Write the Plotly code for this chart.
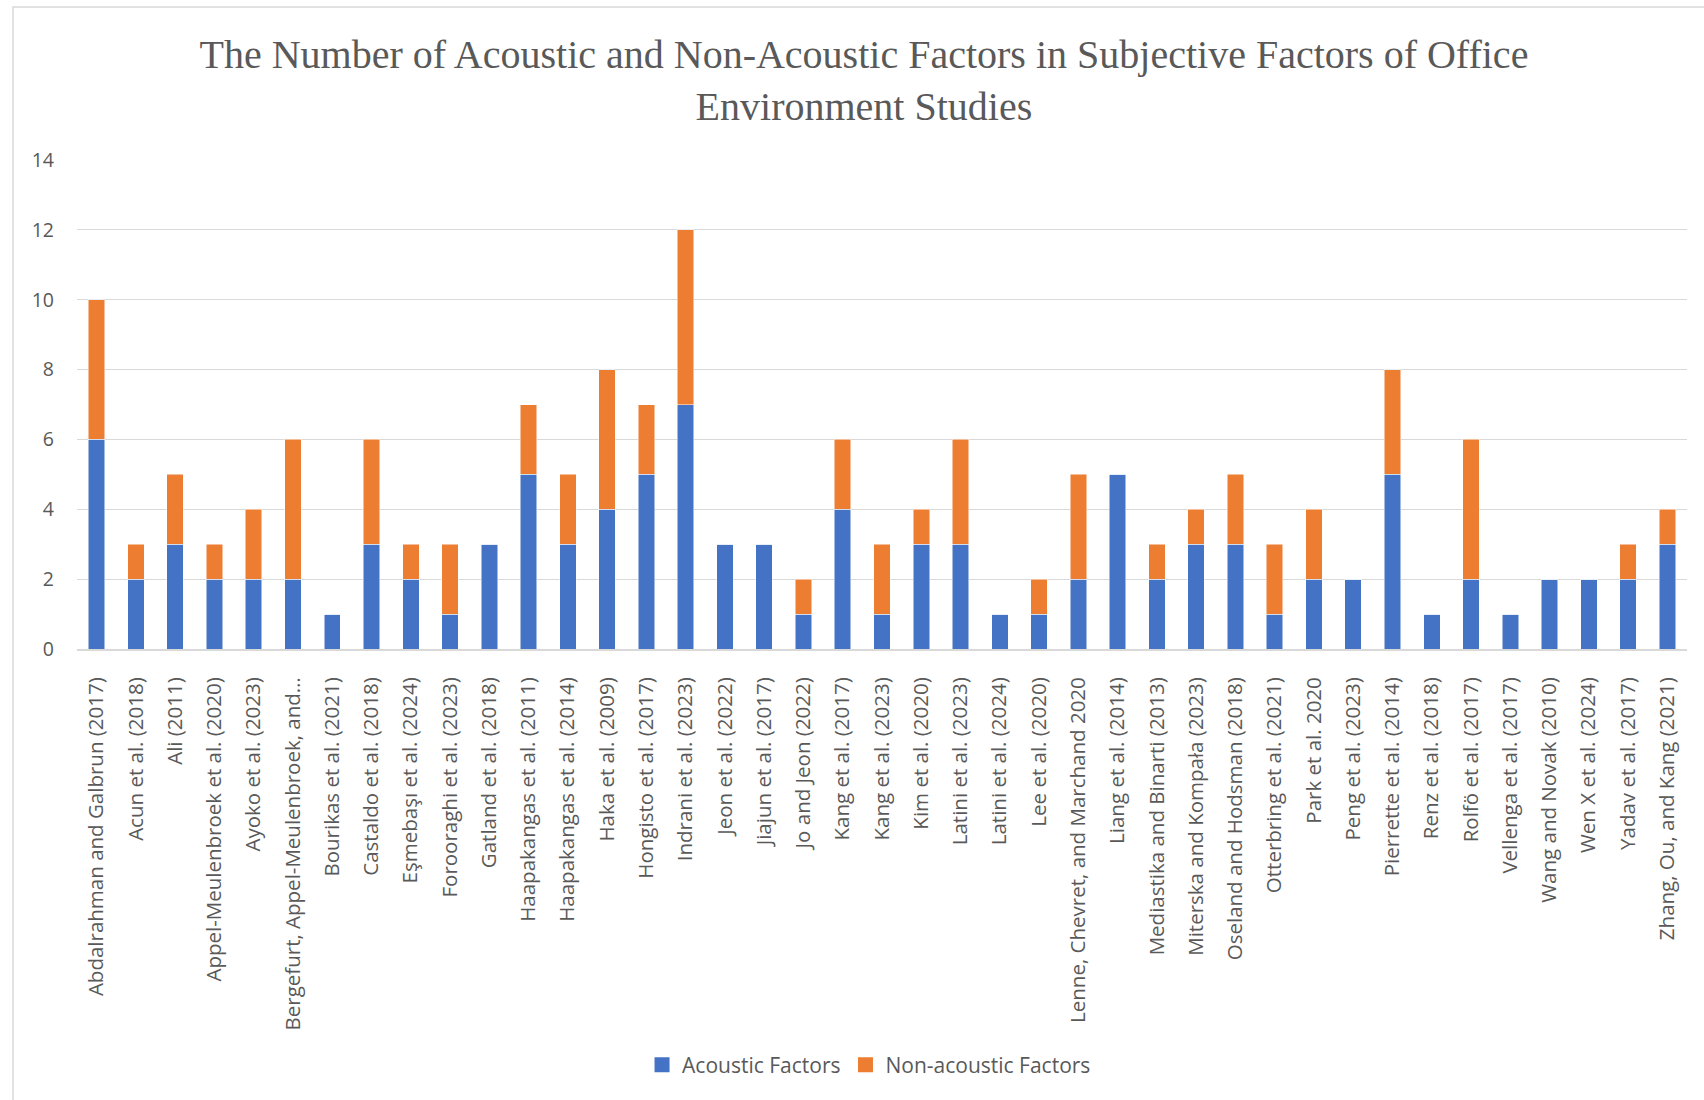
import plotly.graph_objects as go

studies = [
    "Abdalrahman and Galbrun (2017)", "Acun et al. (2018)", "Ali (2011)",
    "Appel-Meulenbroek et al. (2020)", "Ayoko et al. (2023)",
    "Bergefurt, Appel-Meulenbroek, and…", "Bourikas et al. (2021)",
    "Castaldo et al. (2018)", "Eşmebaşı et al. (2024)", "Forooraghi et al. (2023)",
    "Gatland et al. (2018)", "Haapakangas et al. (2011)", "Haapakangas et al. (2014)",
    "Haka et al. (2009)", "Hongisto et al. (2017)", "Indrani et al. (2023)",
    "Jeon et al. (2022)", "Jiajun et al. (2017)", "Jo and Jeon (2022)",
    "Kang et al. (2017)", "Kang et al. (2023)", "Kim et al. (2020)",
    "Latini et al. (2023)", "Latini et al. (2024)", "Lee et al. (2020)",
    "Lenne, Chevret, and Marchand 2020", "Liang et al. (2014)",
    "Mediastika and Binarti (2013)", "Miterska and Kompała (2023)",
    "Oseland and Hodsman (2018)", "Otterbring et al. (2021)", "Park et al. 2020",
    "Peng et al. (2023)", "Pierrette et al. (2014)", "Renz et al. (2018)",
    "Rolfö et al. (2017)", "Vellenga et al. (2017)", "Wang and Novak (2010)",
    "Wen X et al. (2024)", "Yadav et al. (2017)", "Zhang, Ou, and Kang (2021)",
]

acoustic = [6, 2, 3, 2, 2, 2, 1, 3, 2, 1, 3, 5, 3, 4, 5, 7, 3, 3, 1, 4, 1, 3, 3, 1, 1,
            2, 5, 2, 3, 3, 1, 2, 2, 5, 1, 2, 1, 2, 2, 2, 3]
non_acoustic = [4, 1, 2, 1, 2, 4, 0, 3, 1, 2, 0, 2, 2, 4, 2, 5, 0, 0, 1, 2, 2, 1, 3, 0, 1,
                3, 0, 1, 1, 2, 2, 2, 0, 3, 0, 4, 0, 0, 0, 1, 1]

series_names = ["Acoustic Factors", "Non-acoustic Factors"]
series_colors = ["#4472C4", "#ED7D31"]

y_ticks = [0, 2, 4, 6, 8, 10, 12, 14]

title_text = ("The Number of Acoustic and Non-Acoustic Factors in Subjective Factors of Office"
              "<br>Environment Studies")

fig = go.Figure()
for name, vals, col in zip(series_names, [acoustic, non_acoustic], series_colors):
    fig.add_trace(go.Bar(x=studies, y=vals, name=name, showlegend=False,
                         marker=dict(color=col, line=dict(color="white", width=0.5))))
# legend entries with larger square swatches
for name, col in zip(series_names, series_colors):
    fig.add_trace(go.Scatter(x=[studies[0]], y=[None], mode="markers", name=name,
                             marker=dict(symbol="square", size=15, color=col),
                             hoverinfo="skip"))

W, H = 1704, 1100
L, R, T, B = 77, 17, 160, 451
pw, ph = W - L - R, H - T - B

fig.update_layout(
    width=W, height=H,
    barmode="stack", bargap=0.58,
    plot_bgcolor="white", paper_bgcolor="white",
    margin=dict(l=L, r=R, t=T, b=B, autoexpand=False),
    title=dict(text=title_text, x=0.507, xanchor="center", xref="container",
               y=1 - 68 / H, yanchor="middle", yref="container",
               font=dict(family="Liberation Serif, serif", size=40, color="#595959")),
    font=dict(family="Open Sans, sans-serif", color="#595959"),
    legend=dict(orientation="h", x=0.51, xanchor="center", xref="container",
                y=1 - 1065 / H, yanchor="middle", yref="container",
                font=dict(size=21, color="#595959"), traceorder="normal",
                itemsizing="trace", itemwidth=30),
    xaxis=dict(tickangle=-90, tickfont=dict(size=20.5, color="#595959"),
               range=[-0.5, len(studies) - 0.5], autorange=False,
               showgrid=False, ticks="", ticklabelstandoff=18,
               showline=True, linecolor="#d9d9d9", linewidth=2),
    yaxis=dict(range=[0, 14], tickvals=y_ticks, tickfont=dict(size=19.5, color="#595959"),
               showgrid=True, gridcolor="#d9d9d9", gridwidth=1.3, zeroline=False,
               ticks="", ticklabelstandoff=22, showline=False),
    shapes=[dict(type="rect", xref="paper", yref="paper",
                 x0=(13 - L) / pw, x1=(1720 - L) / pw,
                 y0=(H - B - 1120) / ph, y1=(H - B - 7) / ph,
                 line=dict(color="#d9d9d9", width=1.5), fillcolor="rgba(0,0,0,0)",
                 layer="below")],
)

fig.write_html("out.html")
